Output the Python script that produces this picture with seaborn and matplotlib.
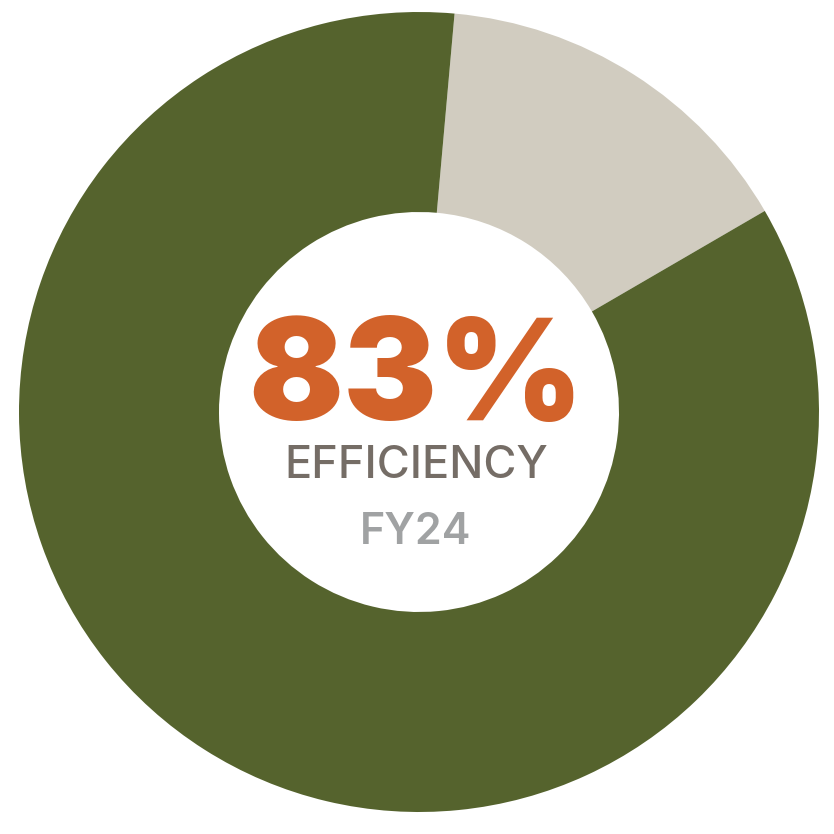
import matplotlib.pyplot as plt
import seaborn as sns

# data read from the donut
segments = ['Other', 'Efficiency']
shares = [15.2, 84.8]
colors = ['#D1CCC0', '#55632D']
big_label = '83%'
sub_label = 'EFFICIENCY'
year_label = 'FY24'

sns.set_theme(style='white')
plt.rcParams['font.family'] = ['Inter', 'DejaVu Sans']

fig = plt.figure(figsize=(8.34, 8.34), dpi=100)
ax = fig.add_axes([0, 0, 1, 1])

ax.pie(shares, colors=colors, radius=1.0, startangle=84.9, counterclock=False,
       wedgeprops=dict(width=0.5, linewidth=0))

ax.set_xlim(-419 / 400, 415 / 400)
ax.set_ylim(-422 / 400, 412 / 400)
ax.set_aspect('equal')
ax.axis('off')

# center labels
ax.text(-0.0075, -0.02, big_label, ha='center', va='baseline',
        fontsize=101, fontweight=900, color='#D2622A')
ax.text(-0.0075, -0.165, sub_label, ha='center', va='baseline',
        fontsize=32.5, fontweight=500, color='#756D66')
ax.text(-0.0075, -0.33, year_label, ha='center', va='baseline',
        fontsize=31, fontweight=600, color='#A0A2A3')

fig.savefig('out.png', dpi=100, facecolor='white')
